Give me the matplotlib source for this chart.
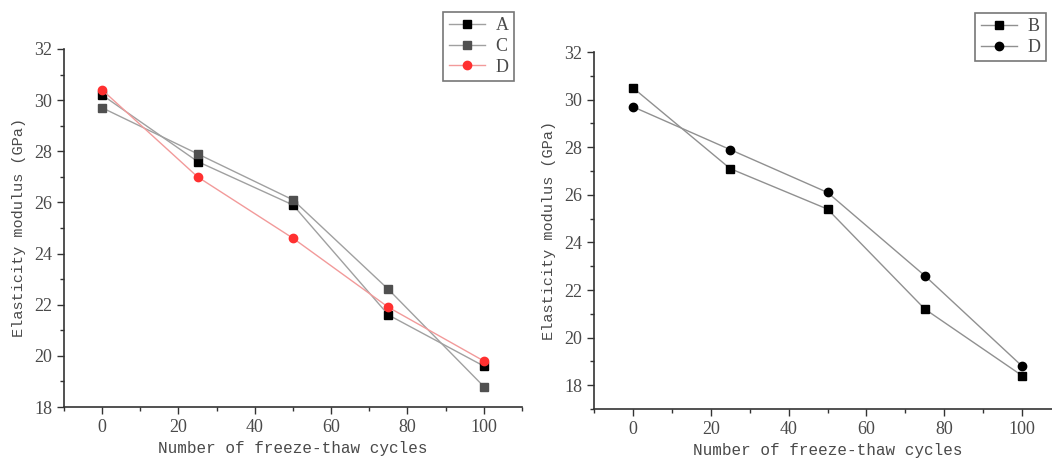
import matplotlib.pyplot as plt
from matplotlib.ticker import MultipleLocator, AutoMinorLocator

# freeze-thaw cycles
cycles = [0, 25, 50, 75, 100]

# left panel
A_left = [30.2, 27.6, 25.9, 21.6, 19.6]
C_left = [29.7, 27.9, 26.1, 22.6, 18.8]
D_left = [30.4, 27.0, 24.6, 21.9, 19.8]

# right panel
B_right = [30.5, 27.1, 25.4, 21.2, 18.4]
D_right = [29.7, 27.9, 26.1, 22.6, 18.8]

xlabel = "Number of freeze-thaw cycles"
ylabel = "Elasticity modulus (GPa)"

txt_color = '#4a4a4a'
mono = 'Liberation Mono'
serif = 'Liberation Serif'

fig = plt.figure(figsize=(10.52, 4.62), dpi=100)
ax1 = fig.add_axes([0.0608, 0.119, 0.4354, 0.775])
ax2 = fig.add_axes([0.5646, 0.1147, 0.444, 0.7727])


def style(ax, ylim):
    ax.set_xlim(-10, 110)
    ax.set_ylim(*ylim)
    ax.spines['top'].set_visible(False)
    ax.spines['right'].set_visible(False)
    for s in ['left', 'bottom']:
        ax.spines[s].set_color('#333333')
        ax.spines[s].set_linewidth(1.2)
    ax.xaxis.set_major_locator(MultipleLocator(20))
    ax.xaxis.set_minor_locator(AutoMinorLocator(2))
    ax.yaxis.set_major_locator(MultipleLocator(2))
    ax.yaxis.set_minor_locator(AutoMinorLocator(2))
    ax.tick_params(which='major', direction='out', length=5, width=1, color='#333333',
                   labelsize=13, labelcolor=txt_color)
    ax.tick_params(which='minor', direction='out', length=3, width=1, color='#333333')
    for lab in ax.get_xticklabels() + ax.get_yticklabels():
        lab.set_fontfamily(serif)
    ax.set_xlabel(xlabel, fontsize=11.5, family=mono, color=txt_color, labelpad=4)
    ax.set_ylabel(ylabel, fontsize=11, family=mono, color=txt_color, labelpad=6)


# left panel
ax1.plot(cycles, A_left, color='#a0a0a0', lw=1, marker='s', ms=6,
         mfc='black', mec='black', label='A')
ax1.plot(cycles, C_left, color='#a0a0a0', lw=1, marker='s', ms=6,
         mfc='#505050', mec='#505050', label='C')
ax1.plot(cycles, D_left, color='#f29a9a', lw=1, marker='o', ms=6,
         mfc='#ff3030', mec='#ff3030', label='D')
style(ax1, (18, 32))

# right panel
ax2.plot(cycles, B_right, color='#909090', lw=1, marker='s', ms=6,
         mfc='black', mec='black', label='B')
ax2.plot(cycles, D_right, color='#909090', lw=1, marker='o', ms=6,
         mfc='black', mec='black', label='D')
style(ax2, (17, 32))

for ax, anchor in [(ax1, (0.4886, 0.974)), (ax2, (0.9943, 0.972))]:
    leg = ax.legend(loc='upper right', bbox_to_anchor=anchor,
                    bbox_transform=fig.transFigure, fancybox=False,
                    handlelength=2.0, handletextpad=0.6, borderpad=0.3,
                    labelspacing=0.2, borderaxespad=0,
                    prop={'family': serif, 'size': 13})
    leg.get_frame().set_edgecolor('#555555')
    leg.get_frame().set_linewidth(1.2)
    for t in leg.get_texts():
        t.set_color(txt_color)

fig.savefig('out.png', dpi=100)
